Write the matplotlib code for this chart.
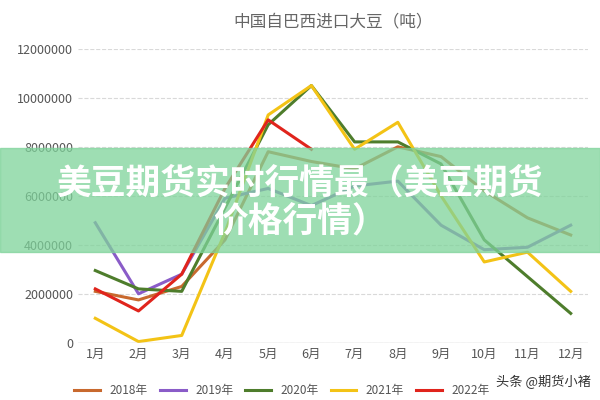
import matplotlib
matplotlib.use("Agg")
import matplotlib.pyplot as plt
from matplotlib.patches import Rectangle

plt.rcParams['font.family'] = ['Noto Sans CJK SC', 'DejaVu Sans']

months = ["1月","2月","3月","4月","5月","6月","7月","8月","9月","10月","11月","12月"]
y2018 = [2100000,1750000,2300000,4200000,7800000,7400000,7100000,8000000,7600000,6200000,5100000,4400000]
y2019 = [4900000,2000000,2800000,5900000,6300000,5600000,6400000,6600000,4800000,3800000,3900000,4800000]
y2020 = [2950000,2200000,2100000,5500000,8900000,10500000,8200000,8200000,7300000,4200000,2700000,1200000]
y2021 = [1000000,50000,300000,4500000,9300000,10500000,7900000,9000000,6000000,3300000,3700000,2100000]
y2022 = [2200000,1300000,2800000,6300000,9100000,7900000]
series = [("2018年", y2018, "#c8692e"), ("2019年", y2019, "#8a5cc8"),
          ("2020年", y2020, "#4e7d2c"), ("2021年", y2021, "#f3c316"),
          ("2022年", y2022, "#e0241c")]
yticks = [0,2000000,4000000,6000000,8000000,10000000,12000000]

fig = plt.figure(figsize=(6,4), dpi=100)
ax = fig.add_axes([0.13, 0.143, 0.85, 0.735])
x = range(len(months))
for name, vals, c in series:
    ax.plot(list(x)[:len(vals)], vals, color=c, lw=2.2, label=name)
ax.set_xlim(-0.4, 11.4)
ax.set_ylim(0, 12000000)
ax.set_xticks(list(x))
ax.set_xticklabels(months, fontsize=9, color="#555")
ax.set_yticks(yticks)
ax.set_yticklabels([str(v) for v in yticks], fontsize=9, color="#555")
ax.tick_params(length=0)
ax.grid(axis='y', color="#d9d9d9", ls='--', lw=0.8)
for s in ax.spines.values():
    s.set_visible(False)
ax.axhline(0, color="#d0d0d0", lw=1)
ax.set_title("中国自巴西进口大豆（吨）", fontsize=12, color="#666", pad=16)
fig.legend(loc='lower center', ncol=5, frameon=False, fontsize=8.5,
           bbox_to_anchor=(0.47, -0.02), handlelength=2.2, columnspacing=1.0,
           labelcolor="#555")

fig.patches.append(Rectangle((0, 1-252/400), 1, 104/400, transform=fig.transFigure,
                             color="#7ed39a", alpha=0.75, zorder=5))
fig.text(0.5, 1-183/400, "美豆期货实时行情最（美豆期货", ha='center', va='center',
         fontsize=25, fontweight='heavy', color='white', zorder=6)
fig.text(0.5, 1-222/400, "价格行情）", ha='center', va='center',
         fontsize=25, fontweight='heavy', color='white', zorder=6)
fig.text(0.985, 0.045, "头条 @期货小褚", ha='right', va='center', fontsize=9.5,
         color="#333", zorder=6)
fig.savefig("out.png", dpi=100)
